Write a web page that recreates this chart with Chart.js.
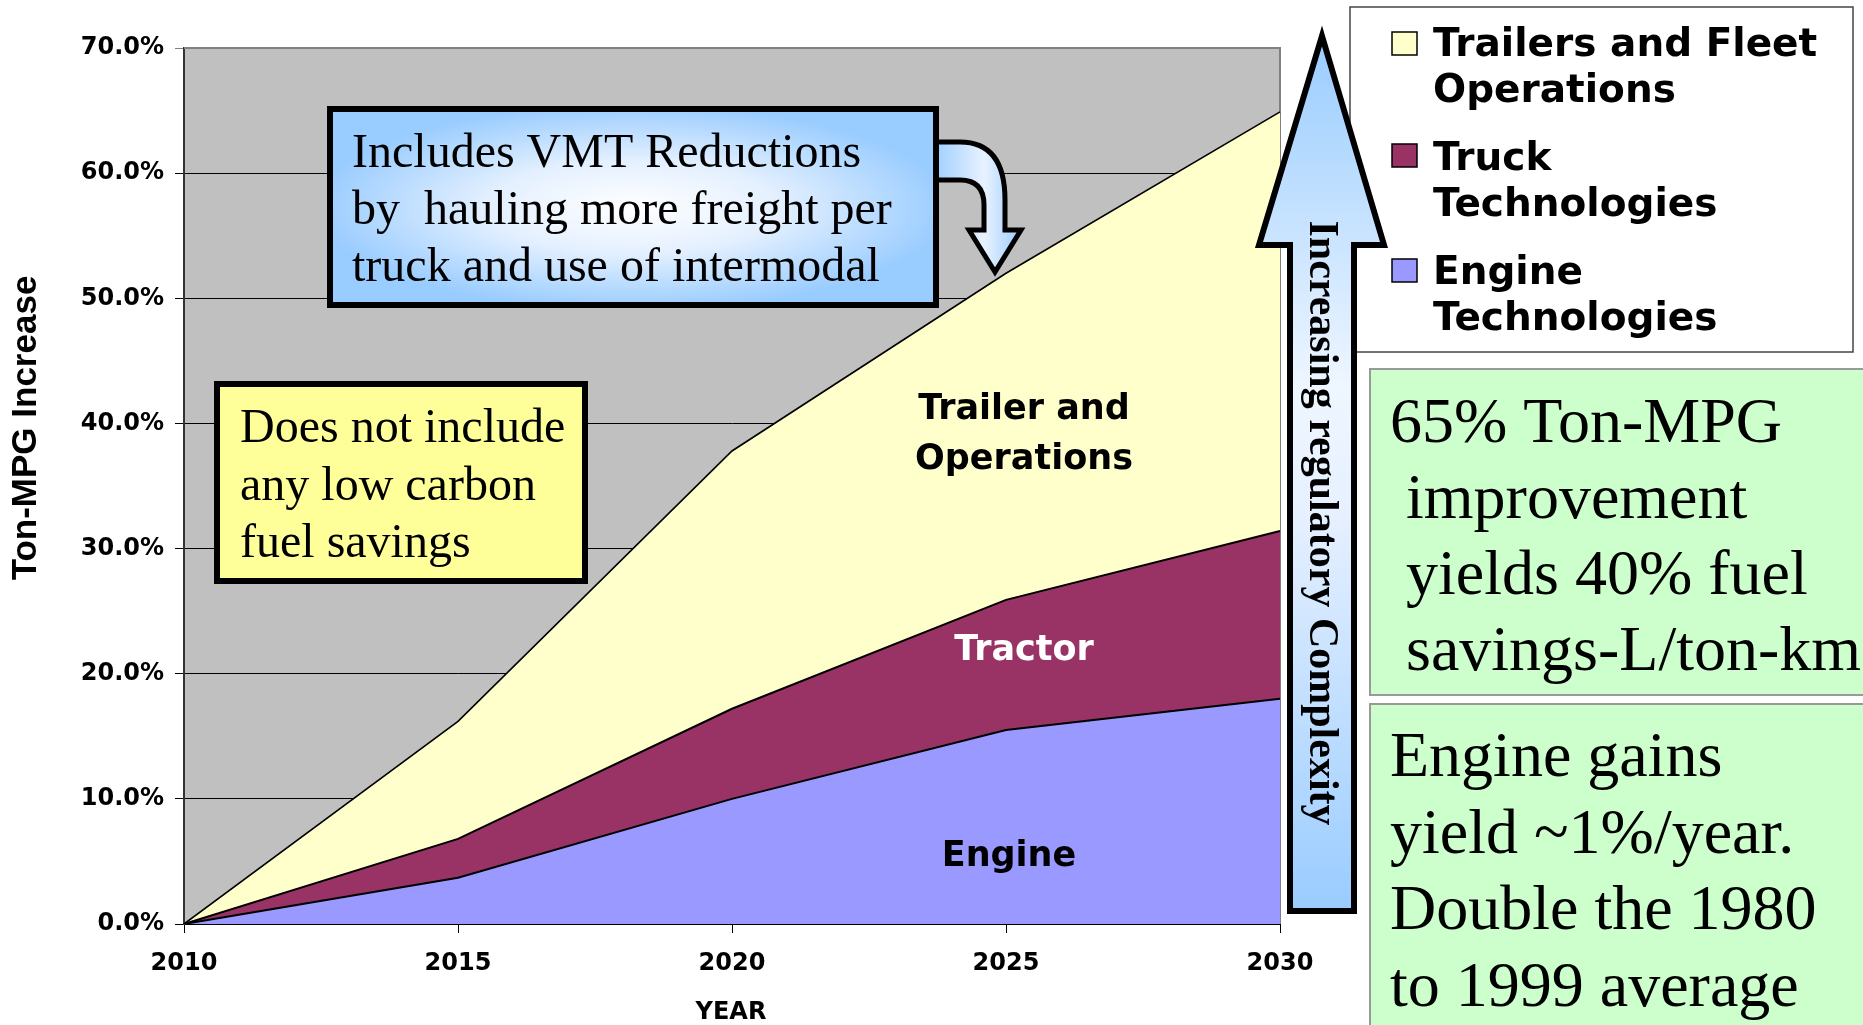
<!DOCTYPE html>
<html>
<head>
<meta charset="utf-8">
<script src="https://cdn.jsdelivr.net/npm/chart.js@4.4.1/dist/chart.umd.min.js"></script>
<style>
html, body { margin: 0; padding: 0; background: #fff; }
</style>
</head>
<body>
<canvas id="myChart" width="1863" height="1025"></canvas>
<script>
// values (percent Ton-MPG increase, stacked)
var years = ['2010', '2015', '2020', '2025', '2030'];
var engine = [0, 3.7, 10.0, 15.5, 18.0];
var truck = [0, 3.1, 7.2, 10.4, 13.4];
var trailers = [0, 9.4, 20.6, 26.1, 33.5];
var yTicks = [0, 10, 20, 30, 40, 50, 60, 70];
var legendLines = [['Trailers and Fleet', 'Operations'], ['Truck', 'Technologies'], ['Engine', 'Technologies']];

var serif = "'Liberation Serif', 'Times New Roman', serif";
var sans = "'DejaVu Sans', sans-serif";

function lines(ctx, arr, x, y, step, font, color, align) {
    ctx.font = font;
    ctx.fillStyle = color;
    ctx.textAlign = align || 'left';
    ctx.textBaseline = 'alphabetic';
    for (var i = 0; i < arr.length; i++) ctx.fillText(arr[i], x, y + i * step);
}

function calloutFill(ctx, x, y, w, h) {
    ctx.save();
    ctx.translate(x + w / 2, y + h / 2);
    ctx.scale(w / 2, h / 2);
    var g = ctx.createRadialGradient(0, 0, 0, 0, 0, 1.05);
    g.addColorStop(0, '#FFFFFF');
    g.addColorStop(0.45, '#E4F0FF');
    g.addColorStop(1, '#99CCFF');
    ctx.fillStyle = g;
    ctx.fillRect(-1, -1, 2, 2);
    ctx.restore();
}

var decor = {
    id: 'decor',
    beforeDraw: function(chart) {
        var ctx = chart.ctx, a = chart.chartArea;
        ctx.save();
        ctx.fillStyle = '#fff';
        ctx.fillRect(0, 0, chart.width, chart.height);
        ctx.fillStyle = '#C0C0C0';
        ctx.fillRect(a.left, a.top, a.right - a.left, a.bottom - a.top);
        ctx.restore();
    },
    beforeDatasetsDraw: function(chart) {
        var ctx = chart.ctx, a = chart.chartArea;
        ctx.save();
        ctx.strokeStyle = '#808080';
        ctx.lineWidth = 2;
        ctx.beginPath();
        ctx.moveTo(a.left, a.top);
        ctx.lineTo(a.right, a.top);
        ctx.lineTo(a.right, a.bottom);
        ctx.stroke();
        ctx.restore();
    },
    afterDraw: function(chart) {
        var ctx = chart.ctx;
        ctx.save();

        // axis titles
        ctx.save();
        ctx.translate(26, 428);
        ctx.rotate(-Math.PI / 2);
        ctx.font = "bold 35px 'Liberation Sans', Arial, sans-serif";
        ctx.fillStyle = '#000';
        ctx.textAlign = 'center';
        ctx.textBaseline = 'middle';
        ctx.fillText('Ton-MPG Increase', 0, 0);
        ctx.restore();
        lines(ctx, ['YEAR'], 731, 1019, 0, 'bold 24px ' + sans, '#000', 'center');

        // labels inside the areas
        lines(ctx, ['Trailer and', 'Operations'], 1024, 419, 50, 'bold 35px ' + sans, '#000', 'center');
        lines(ctx, ['Tractor'], 1024, 660, 0, 'bold 35px ' + sans, '#fff', 'center');
        lines(ctx, ['Engine'], 1009, 866, 0, 'bold 35px ' + sans, '#000', 'center');

        // bent arrow out of the VMT callout
        ctx.beginPath();
        ctx.moveTo(930, 142);
        ctx.lineTo(960, 142);
        ctx.quadraticCurveTo(1005, 142, 1005, 200);
        ctx.lineTo(1005, 230);
        ctx.lineTo(1021, 230);
        ctx.lineTo(995, 272);
        ctx.lineTo(969, 230);
        ctx.lineTo(984, 230);
        ctx.lineTo(984, 205);
        ctx.quadraticCurveTo(984, 180, 960, 180);
        ctx.lineTo(930, 180);
        ctx.closePath();
        var ga = ctx.createLinearGradient(930, 0, 1021, 0);
        ga.addColorStop(0, '#99CCFF');
        ga.addColorStop(0.6, '#E8F2FF');
        ga.addColorStop(1, '#99CCFF');
        ctx.fillStyle = ga;
        ctx.fill();
        ctx.lineWidth = 5;
        ctx.lineJoin = 'miter';
        ctx.strokeStyle = '#000';
        ctx.stroke();

        // VMT callout
        calloutFill(ctx, 330, 109, 606, 196);
        ctx.lineWidth = 6;
        ctx.strokeStyle = '#000';
        ctx.strokeRect(330, 109, 606, 196);
        lines(ctx, ['Includes VMT Reductions', 'by  hauling more freight per', 'truck and use of intermodal'],
            352, 167, 57, '48px ' + serif, '#000');

        // low carbon fuel note
        ctx.fillStyle = '#FFFF99';
        ctx.fillRect(217, 384, 368, 197);
        ctx.strokeRect(217, 384, 368, 197);
        lines(ctx, ['Does not include', 'any low carbon', 'fuel savings'], 240, 442, 57.5, '48px ' + serif, '#000');

        // legend, built from the datasets (top series first)
        ctx.fillStyle = '#fff';
        ctx.fillRect(1350, 7, 503, 345);
        ctx.lineWidth = 1.5;
        ctx.strokeStyle = '#444';
        ctx.strokeRect(1350, 7, 503, 345);
        var ds = chart.data.datasets.slice().reverse();
        var boxTop = [32, 144, 259];
        var baseY = [56, 170, 284];
        for (var i = 0; i < ds.length; i++) {
            ctx.fillStyle = ds[i].backgroundColor;
            ctx.fillRect(1392, boxTop[i], 25, 23);
            ctx.strokeStyle = '#000';
            ctx.lineWidth = 1.5;
            ctx.strokeRect(1392, boxTop[i], 25, 23);
            lines(ctx, legendLines[i], 1433, baseY[i], 46, 'bold 39px ' + sans, '#000');
        }

        // green notes
        ctx.lineWidth = 2;
        ctx.strokeStyle = '#999';
        ctx.fillStyle = '#CCFFCC';
        ctx.fillRect(1370, 369, 520, 326);
        ctx.strokeRect(1370, 369, 520, 326);
        ctx.fillStyle = '#CCFFCC';
        ctx.fillRect(1370, 704, 520, 400);
        ctx.strokeRect(1370, 704, 520, 400);
        lines(ctx, ['65% Ton-MPG', ' improvement', ' yields 40% fuel', ' savings-L/ton-km'], 1390, 442, 76, '64px ' + serif, '#000');
        lines(ctx, ['Engine gains', 'yield ~1%/year.', 'Double the 1980', 'to 1999 average'], 1390, 776, 76.5, '64px ' + serif, '#000');

        // regulatory complexity arrow, on top of the legend edge
        ctx.beginPath();
        ctx.moveTo(1322, 36);
        ctx.lineTo(1384, 245);
        ctx.lineTo(1354, 245);
        ctx.lineTo(1354, 911);
        ctx.lineTo(1290, 911);
        ctx.lineTo(1290, 245);
        ctx.lineTo(1259, 245);
        ctx.closePath();
        var gv = ctx.createLinearGradient(0, 36, 0, 911);
        gv.addColorStop(0, '#99CCFF');
        gv.addColorStop(0.4, '#EEF6FF');
        gv.addColorStop(0.55, '#E6F0FF');
        gv.addColorStop(1, '#99CCFF');
        ctx.fillStyle = gv;
        ctx.fill();
        ctx.lineWidth = 6;
        ctx.strokeStyle = '#000';
        ctx.stroke();
        ctx.save();
        ctx.translate(1321, 523);
        ctx.rotate(Math.PI / 2);
        ctx.font = 'bold 42px ' + serif;
        ctx.fillStyle = '#000';
        ctx.textAlign = 'center';
        ctx.textBaseline = 'middle';
        ctx.fillText('Increasing regulatory Complexity', 0, 0);
        ctx.restore();

        ctx.restore();
    }
};

Chart.defaults.color = '#000';

var ctx = document.getElementById('myChart').getContext('2d');
var myChart = new Chart(ctx, {
    type: 'line',
    data: {
        labels: years,
        datasets: [{
            label: 'Engine Technologies',
            data: engine,
            backgroundColor: '#9999FF',
            borderColor: '#000',
            borderWidth: 2,
            fill: 'origin'
        }, {
            label: 'Truck Technologies',
            data: truck,
            backgroundColor: '#993366',
            borderColor: '#000',
            borderWidth: 2,
            fill: '-1'
        }, {
            label: 'Trailers and Fleet Operations',
            data: trailers,
            backgroundColor: '#FFFFCC',
            borderColor: '#000',
            borderWidth: 1.6,
            fill: '-1'
        }]
    },
    options: {
        responsive: false,
        animation: false,
        devicePixelRatio: 1,
        layout: { padding: { left: 0, right: 583, top: 48, bottom: 0 } },
        elements: { point: { radius: 0 }, line: { tension: 0 } },
        plugins: { legend: { display: false }, tooltip: { enabled: false } },
        scales: {
            x: {
                offset: false,
                grid: { display: true, drawOnChartArea: false, drawTicks: true, tickLength: 9, color: '#000' },
                border: { color: '#000', width: 2 },
                ticks: { font: { family: 'DejaVu Sans', weight: 'bold', size: 24 }, padding: 16, maxRotation: 0, autoSkip: false },
                afterFit: function(scale) { scale.height = 101; }
            },
            y: {
                stacked: true,
                min: 0,
                max: 70,
                afterBuildTicks: function(scale) {
                    scale.ticks = yTicks.map(function(v) { return { value: v }; });
                },
                grid: {
                    tickLength: 9,
                    lineWidth: 1,
                    color: function(c) { return c.tick && c.tick.value === 70 ? '#808080' : '#000'; }
                },
                border: { color: '#333', width: 2 },
                ticks: {
                    font: { family: 'DejaVu Sans', weight: 'bold', size: 24 },
                    padding: 11,
                    callback: function(v) { return Number(v).toFixed(1) + '%'; }
                },
                afterFit: function(scale) { scale.width = 184; }
            }
        }
    },
    plugins: [decor]
});
</script>
</body>
</html>
